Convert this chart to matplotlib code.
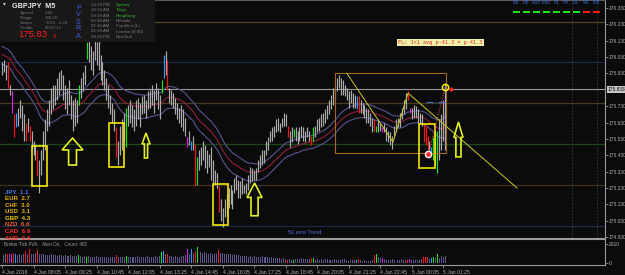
import numpy as np
import pandas as pd
import matplotlib
matplotlib.use("Agg")
import matplotlib.pyplot as plt
from matplotlib.patches import Rectangle, Polygon

# ---------------- data ----------------
symbol = "GBPJPY"
timeframe = "M5"
start_time = "2016-01-04 06:45"

bar_high = [176.00, 176.01, 175.98, 176.00, 175.86, 175.82, 175.68, 175.69, 175.72, 175.77,
            175.74, 175.68, 175.63, 175.66, 175.61, 175.58, 175.52, 175.49, 175.46, 175.40,
            175.46, 175.58, 175.65, 175.71, 175.77, 175.84, 175.86, 175.86, 175.90, 175.94,
            175.95, 175.92, 175.86, 175.84, 175.89, 175.80, 175.77, 175.78, 175.77, 175.86,
            175.90, 175.94, 175.98, 176.12, 176.13, 176.10, 176.07, 176.15, 176.12, 176.13,
            176.04, 176.00, 175.95, 175.90, 175.86, 175.80, 175.75, 175.71, 175.60, 175.52,
            175.61, 175.65, 175.69, 175.72, 175.74, 175.77, 175.74, 175.71, 175.77, 175.78,
            175.75, 175.79, 175.80, 175.77, 175.82, 175.83, 175.86, 175.83, 175.87, 175.84,
            175.80, 175.89, 176.04, 176.07, 176.01, 175.84, 175.83, 175.81, 175.78, 175.75,
            175.72, 175.74, 175.71, 175.66, 175.54, 175.58, 175.52, 175.55, 175.50, 175.42,
            175.46, 175.48, 175.52, 175.49, 175.46, 175.44, 175.48, 175.40, 175.34, 175.32,
            175.24, 175.16, 175.11, 175.16, 175.19, 175.23, 175.25, 175.22, 175.29, 175.31,
            175.28, 175.27, 175.29, 175.25, 175.26, 175.31, 175.36, 175.35, 175.34, 175.35,
            175.40, 175.43, 175.46, 175.46, 175.52, 175.54, 175.58, 175.60, 175.61, 175.65,
            175.66, 175.63, 175.66, 175.69, 175.68, 175.61, 175.58, 175.60, 175.59, 175.60,
            175.58, 175.60, 175.61, 175.60, 175.58, 175.60, 175.58, 175.55, 175.60, 175.61,
            175.65, 175.66, 175.68, 175.69, 175.71, 175.74, 175.77, 175.80, 175.84, 175.86,
            175.90, 175.92, 175.90, 175.89, 175.86, 175.84, 175.82, 175.83, 175.81, 175.80,
            175.79, 175.79, 175.77, 175.75, 175.74, 175.72, 175.71, 175.69, 175.66, 175.65,
            175.61, 175.65, 175.63, 175.60, 175.63, 175.60, 175.58, 175.57, 175.55, 175.61,
            175.65, 175.66, 175.69, 175.72, 175.77, 175.81, 175.82, 175.72, 175.72, 175.74,
            175.73, 175.71, 175.69, 175.68, 175.63, 175.61, 175.55, 175.52, 175.48, 175.54,
            175.58, 175.58, 175.65, 175.68, 175.77, 175.87]

bar_low = [175.92, 175.94, 175.89, 175.84, 175.80, 175.69, 175.54, 175.60, 175.61, 175.66,
           175.58, 175.52, 175.52, 175.57, 175.52, 175.47, 175.43, 175.40, 175.30, 175.20,
           175.31, 175.40, 175.46, 175.58, 175.61, 175.68, 175.71, 175.74, 175.77, 175.80,
           175.83, 175.77, 175.71, 175.68, 175.74, 175.65, 175.58, 175.61, 175.63, 175.74,
           175.78, 175.82, 175.86, 176.02, 176.00, 175.95, 175.92, 176.01, 175.98, 175.95,
           175.89, 175.86, 175.83, 175.77, 175.72, 175.68, 175.63, 175.58, 175.42, 175.37,
           175.43, 175.46, 175.52, 175.48, 175.61, 175.63, 175.60, 175.58, 175.61, 175.65,
           175.60, 175.68, 175.69, 175.66, 175.71, 175.72, 175.74, 175.69, 175.77, 175.71,
           175.65, 175.81, 175.90, 175.92, 175.83, 175.75, 175.74, 175.72, 175.68, 175.65,
           175.63, 175.60, 175.58, 175.55, 175.48, 175.49, 175.46, 175.46, 175.24, 175.25,
           175.34, 175.37, 175.40, 175.35, 175.32, 175.36, 175.28, 175.26, 175.25, 175.23,
           175.08, 175.03, 174.99, 175.05, 175.06, 175.11, 175.13, 175.10, 175.20, 175.22,
           175.17, 175.17, 175.19, 175.20, 175.19, 175.22, 175.26, 175.27, 175.28, 175.28,
           175.33, 175.35, 175.37, 175.38, 175.43, 175.46, 175.51, 175.52, 175.54, 175.57,
           175.58, 175.57, 175.60, 175.61, 175.61, 175.54, 175.48, 175.51, 175.54, 175.52,
           175.50, 175.52, 175.54, 175.52, 175.51, 175.54, 175.52, 175.49, 175.52, 175.54,
           175.57, 175.58, 175.60, 175.61, 175.63, 175.65, 175.68, 175.71, 175.74, 175.77,
           175.82, 175.84, 175.80, 175.80, 175.79, 175.77, 175.72, 175.75, 175.72, 175.72,
           175.71, 175.69, 175.69, 175.68, 175.66, 175.63, 175.63, 175.61, 175.57, 175.58,
           175.57, 175.57, 175.58, 175.57, 175.57, 175.52, 175.51, 175.49, 175.47, 175.55,
           175.57, 175.60, 175.60, 175.65, 175.68, 175.71, 175.77, 175.69, 175.65, 175.66,
           175.66, 175.63, 175.63, 175.61, 175.51, 175.49, 175.46, 175.42, 175.44, 175.40,
           175.37, 175.32, 175.40, 175.46, 175.52, 175.46]

bar_close_last = 175.833

# PVSRA coloured (climax / rising volume) bars; all others are neutral
pvsra_bars = {3: "r", 5: "m", 6: "r", 7: "b", 12: "r", 14: "r", 18: "r", 39: "g", 43: "g",
              58: "r", 63: "g", 81: "g", 82: "b", 84: "r", 94: "m", 96: "b", 98: "r", 99: "g",
              110: "r", 145: "r", 148: "g", 157: "r", 158: "g", 180: "b", 181: "r", 189: "r",
              190: "g", 193: "m", 206: "r", 207: "m", 214: "r", 215: "r", 216: "r", 218: "b",
              219: "g", 221: "g"}

tick_volume = [900, 850, 950, 1000, 900, 1000, 1050, 950, 850, 900,
               800, 950, 1250, 900, 1450, 1000, 950, 1050, 1350, 1000,
               900, 950, 850, 850, 800, 900, 850, 800, 750, 850,
               800, 750, 800, 700, 750, 800, 700, 750, 700, 850,
               700, 650, 700, 650, 700, 650, 600, 650, 700, 600,
               650, 600, 650, 600, 550, 600, 650, 600, 850, 650,
               600, 650, 600, 750, 650, 600, 650, 600, 650, 700,
               600, 650, 600, 650, 700, 650, 600, 650, 700, 650,
               700, 1150, 1250, 900, 950, 750, 700, 650, 700, 600,
               650, 700, 750, 800, 1450, 1000, 1450, 1100, 1300, 1650,
               1200, 1150, 1100, 1150, 1050, 1000, 1050, 950, 1000, 950,
               1350, 1100, 1050, 1000, 950, 900, 950, 850, 900, 850,
               800, 750, 700, 750, 700, 650, 700, 650, 700, 650,
               600, 650, 700, 650, 600, 650, 550, 600, 550, 500,
               550, 500, 450, 500, 450, 350, 400, 350, 350, 400,
               450, 400, 500, 450, 400, 450, 400, 550, 550, 350,
               400, 350, 400, 350, 450, 400, 350, 300, 350, 400,
               350, 300, 350, 400, 450, 300, 250, 300, 350, 300,
               350, 450, 300, 250, 300, 250, 200, 250, 300, 850,
               950, 600, 500, 550, 400, 350, 300, 350, 400, 300,
               250, 300, 350, 400, 350, 300, 350, 450, 350, 300,
               350, 300, 350, 400, 600, 650, 600, 450, 550, 650,
               500, 950, 500, 750, 600, 750]
tick_count = 482

ema_period = 34
ema_seed = {"high": 176.10, "close": 176.05, "low": 175.99}

level_prices = [176.245, 176.00, 175.75, 175.50, 175.25, 175.00]
level_colors = ["#52441c", "#1c2a44", "#4a3c22", "#174a17", "#3e3220", "#1c2a44"]

price_ticks = [176.33, 176.23, 176.13, 176.03, 175.93, 175.73, 175.63, 175.53,
               175.43, 175.33, 175.23, 175.13, 175.03, 174.93]
volume_ticks = [0, 2010]

currency_names = ["JPY", "EUR", "CHF", "USD", "GBP", "NZD", "CAD", "AUD"]
currency_strength = [1.1, 2.7, 3.0, 3.1, 4.3, 6.6, 6.9, 0.3]
currency_colors = ["#4f74e0", "#e2b000", "#e2b000", "#e2b000", "#e8c800", "#e0602a", "#ff2a2a", "#ff2a2a"]

sessions = ["Sydney", "Tokyo", "HongKong", "Helsinki", "Frankfurt (L)", "London (8.00)", "NewYork"]
session_times = ["12:38 PM", "10:38 AM", "09:38 AM", "03:38 AM", "02:38 AM", "01:38 AM", "08:38 PM"]
session_open = [True, True, True, False, False, False, False]

info_labels = ["Spread", "Range", "Swaps", "Candle"]
info_values = ["3.40", "130.00", "-8.00, -3.24", "00:03:13"]

tf_labels = ["M1", "M5", "M15", "M30", "H1", "H4", "D1", "W1", "MN"]
tf_trend = ["up", "up", "up", "up", "up", "up", "up", "down", "down"]

# drawn objects (bar index, price)
boxes = [(15.2, 22.8, 175.242, 175.486), (54.3, 61.9, 175.358, 175.627),
         (107.1, 114.7, 175.003, 175.254), (211.7, 219.8, 175.352, 175.621)]
arrows = [(35.8, 5.3, 2.0, 175.535, 175.370), (73.1, 2.0, 0.8, 175.566, 175.413),
          (128.2, 3.8, 1.8, 175.260, 175.060), (231.7, 2.3, 1.3, 175.633, 175.420)]
zigzag_idx = [175.1, 198.5, 206.1, 261.4]
zigzag_price = [175.93, 175.51, 175.81, 175.23]
range_box = (169.0, 225.4, 175.445, 175.93)

# ---------------- figure ----------------
W, H = 625, 275
BG = "#0b0b0b"
fig = plt.figure(figsize=(W / 100, H / 100), dpi=100, facecolor=BG)
FONT = ["Liberation Sans", "DejaVu Sans"]


def fx(x):
    return x / W


def fy(y):
    return 1 - y / H


ax = fig.add_axes([0, fy(238), fx(605), 238 / H], facecolor=BG)
axv = fig.add_axes([0, fy(265), fx(605), 26 / H], facecolor=BG)

n = len(bar_high)
idx = np.arange(n)
hi = np.array(bar_high)
lo = np.array(bar_low)
times = pd.date_range(start_time, periods=n, freq="5min")

YLO, YHI = 174.924, 176.379
xl = (-2 / 1.97, 603 / 1.97)
ax.set_xlim(*xl)
ax.set_ylim(YLO, YHI)
axv.set_xlim(*xl)
axv.set_ylim(-210, 2535)

pal = {"w": "#ababab", "r": "#ff1414", "g": "#18e818", "b": "#2a9cff", "m": "#e020e0"}
vpal = {"w": "#5a5888", "r": "#ff1414", "g": "#18e818", "b": "#2a9cff", "m": "#d020f0"}
codes = [pvsra_bars.get(i, "w") for i in range(n)]

# level lines
for p, c in zip(level_prices, level_colors):
    ax.axhline(p, color=c, lw=0.9, zorder=1)
ax.axhline(bar_close_last, color="#9a9a9a", lw=0.8, zorder=1)
for xi in (289.3, 302.0):
    ax.axvline(xi, color="#3c3c3c", lw=0.6, ls=(0, (2, 2)), zorder=1)


def ema(values, period, seed):
    a = 2.0 / (period + 1)
    e = seed
    out = []
    for v in values:
        e = e + a * (v - e)
        out.append(e)
    return np.array(out)


mid = (hi + lo) / 2
ax.plot(idx, ema(hi, ema_period, ema_seed["high"]), color="#565690", lw=0.8, zorder=2)
ax.plot(idx, ema(mid, ema_period, ema_seed["close"]), color="#8e1e40", lw=0.8, zorder=2)
ax.plot(idx, ema(lo, ema_period, ema_seed["low"]), color="#565690", lw=0.8, zorder=2)

# candles
ax.vlines(idx, lo, hi, colors=[pal[c] for c in codes], lw=0.85, zorder=3)

# volume
axv.bar(idx, tick_volume, width=0.5, color=[vpal[c] for c in codes], zorder=2)

# range box & zigzag
r0, r1, p0, p1 = range_box
ax.add_patch(Rectangle((r0, p0), r1 - r0, p1 - p0, fill=False, ec="#a8681c", lw=0.8, zorder=4))
ax.plot(zigzag_idx, zigzag_price, color="#c8c820", lw=0.7, zorder=4)

for b0, b1, q0, q1 in boxes:
    ax.add_patch(Rectangle((b0, q0), b1 - b0, q1 - q0, fill=False, ec="#f2e600", lw=1.2, zorder=5))

for cx, hw, sw, top, bot in arrows:
    neck = top - (top - bot) * 0.44
    pts = [(cx, top), (cx + hw, neck), (cx + sw, neck), (cx + sw, bot),
           (cx - sw, bot), (cx - sw, neck), (cx - hw, neck)]
    ax.add_patch(Polygon(pts, closed=True, fill=False, ec="#e2f020", lw=1.2, zorder=5))

# trade markers
ax.plot([217, 225], [175.46, 175.85], color="#e05060", lw=0.8, ls=(0, (1, 1.5)), zorder=5)
ax.plot([215, 225], [175.757, 175.757], color="#3a70c8", lw=0.8, ls="-.", zorder=5)
ax.plot([225], [175.85], marker="o", ms=4.5, mfc="none", mec="#f0f000", mew=1.1, zorder=6)
ax.plot([228], [175.837], marker="o", ms=2, mfc="#ff2020", mec="#ff2020", zorder=6)
ax.plot([216], [175.44], marker="o", ms=4.5, mfc="#ff3030", mec="#ffffff", mew=1.0, zorder=6)

# axes styling
for a in (ax, axv):
    for s in a.spines.values():
        s.set_visible(False)
    a.spines["right"].set_visible(True)
    a.spines["right"].set_color("#9a9a9a")
    a.spines["right"].set_linewidth(0.8)
    a.yaxis.tick_right()
    a.tick_params(axis="y", colors="#b0b0b0", labelsize=3.5, length=1.8, width=0.5, pad=0.8)
ax.spines["top"].set_visible(True)
ax.spines["top"].set_color("#5a5a5a")
ax.spines["bottom"].set_visible(True)
ax.spines["bottom"].set_color("#9a9a9a")
axv.spines["top"].set_visible(True)
axv.spines["top"].set_color("#9a9a9a")
axv.spines["bottom"].set_visible(True)
axv.spines["bottom"].set_color("#9a9a9a")

ax.set_yticks(price_ticks)
ax.set_yticklabels([f"{p:.3f}" for p in price_ticks], family=FONT)
ax.set_xticks([])
axv.set_yticks(volume_ticks)
axv.set_yticklabels([str(v) for v in volume_ticks], family=FONT)

xt = list(range(0, n, 16))
lab = []
for k, i in enumerate(xt):
    t = times[i]
    lab.append(f"{t.day} {t.strftime('%b')} {t.year}" if k == 0 else f"{t.day} {t.strftime('%b')} {t.strftime('%H:%M')}")
axv.set_xticks(xt)
axv.set_xticklabels(lab, family=FONT, ha="left")
axv.tick_params(axis="x", colors="#b0b0b0", labelsize=3.7, length=2, width=0.5, pad=1.5)

# current price tag
ax.text(1.004, (bar_close_last - YLO) / (YHI - YLO), f"{bar_close_last:.3f}",
        transform=ax.transAxes, fontsize=3.5, family=FONT, color="#000000", va="center", ha="left",
        bbox=dict(boxstyle="square,pad=0.15", fc="#c8c8c8", ec="none"), clip_on=False, zorder=10)

# ---------------- overlay texts ----------------
fig.add_artist(Rectangle((0, fy(42)), fx(155), 42 / H, transform=fig.transFigure,
                         fc="#181818", ec="none", zorder=5))
fig.text(fx(12), fy(6), f"{symbol}  {timeframe}", color="#e8e8e8", fontsize=5.2, weight="bold",
         family=FONT, va="center", zorder=6)
fig.text(fx(3), fy(4), "\u25be", color="#d0d0d0", fontsize=4, family=["DejaVu Sans"], va="center", zorder=6)
for k, (l, v) in enumerate(zip(info_labels, info_values)):
    fig.text(fx(20), fy(13 + 5 * k), l, color="#707070", fontsize=3.2, family=FONT, va="center", zorder=6)
    fig.text(fx(45), fy(13 + 5 * k), v, color="#707070", fontsize=3.2, family=FONT, va="center", zorder=6)
fig.text(fx(18), fy(35), "175.83", color="#ff1e1e", fontsize=6.8, family=FONT, va="center", zorder=6)
fig.text(fx(53), fy(36.5), "3", color="#ff1e1e", fontsize=3.8, family=FONT, va="center", zorder=6)
for k, ch in enumerate("PVSRA"):
    fig.text(fx(78.5), fy(8 + 7 * k), ch, color="#4060d8", fontsize=5.2, family=FONT,
             va="center", ha="center", zorder=6)
for k, (t, s, op) in enumerate(zip(session_times, sessions, session_open)):
    yy = 5 + 5.3 * k
    fig.text(fx(91), fy(yy), t, color="#7a7a7a", fontsize=3.2, family=FONT, va="center", zorder=6)
    fig.text(fx(116), fy(yy), s, color="#2eb82e" if op else "#7a7a7a", fontsize=3.2,
             family=FONT, va="center", zorder=6)

for k, (c, v, col) in enumerate(zip(currency_names, currency_strength, currency_colors)):
    fig.text(fx(5), fy(192 + 6.6 * k), f"{c}  {v:.1f}", color=col, fontsize=4.4, weight="bold",
             family=FONT, va="center", zorder=6)

fig.text(fx(398), fy(42.5), "FL: 1<1 avg p-41.3 = p-41.3", color="#e02828", fontsize=3.7,
         family=["DejaVu Sans Mono"], va="center", zorder=6,
         bbox=dict(boxstyle="square,pad=0.25", fc="#f0f0a8", ec="none"))
fig.text(fx(288), fy(233), "50 ema Trend", color="#4a68d0", fontsize=3.9, family=FONT,
         va="center", zorder=6)
fig.text(fx(4), fy(244), f"Broker Tick PVA:   Alert On,   Count: {tick_count}", color="#9a9a9a",
         fontsize=3.3, family=FONT, va="center", zorder=6)

tf_x = [513, 523, 533, 543, 553, 563, 573, 583, 593]
for t, x0, tr in zip(tf_labels, tf_x, tf_trend):
    fig.text(fx(x0 + 3), fy(3), t, color="#3a6ad0", fontsize=3.3, family=FONT, va="center",
             ha="center", zorder=6)
    fig.add_artist(Rectangle((fx(x0), fy(13)), fx(7), 1.6 / H, transform=fig.transFigure,
                             fc="#18e818" if tr == "up" else "#ff1a1a", ec="none", zorder=6))

fig.savefig("out.png", dpi=100, facecolor=BG)
